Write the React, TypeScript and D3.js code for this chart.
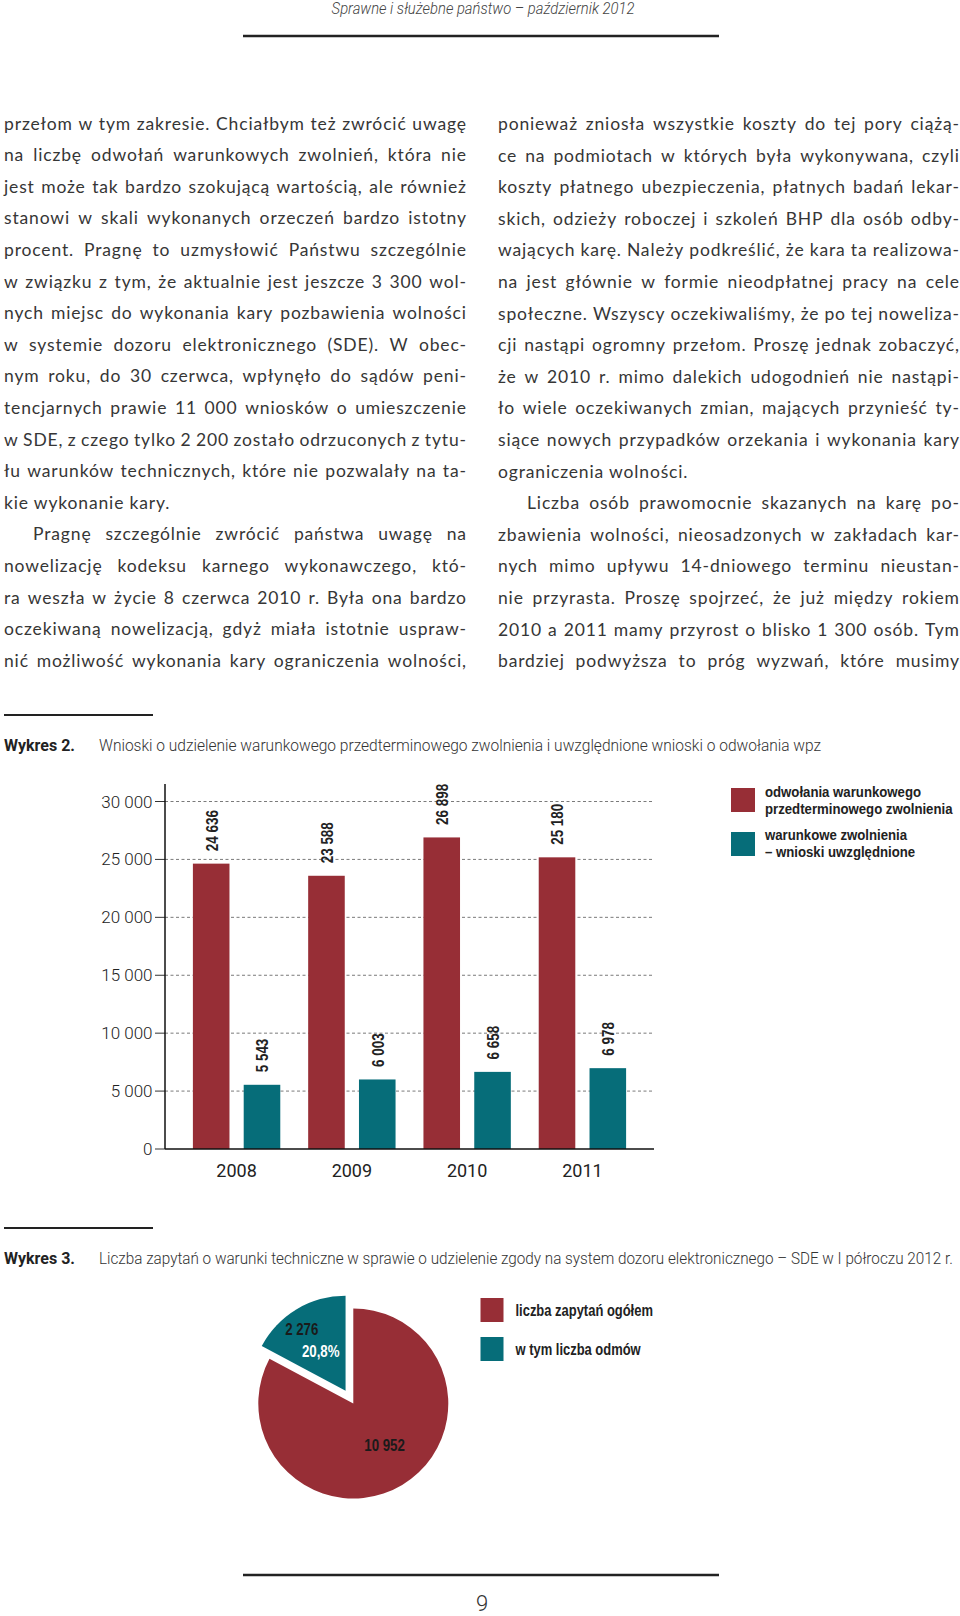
import React from 'react';
import * as d3 from 'd3';

// ---------- content ----------
const headerText = 'Sprawne i służebne państwo – październik 2012';
const pageNumber = '9';

const leftColumnLines = [
  'przełom w tym zakresie. Chciałbym też zwrócić uwagę',
  'na liczbę odwołań warunkowych zwolnień, która nie',
  'jest może tak bardzo szokującą wartością, ale również',
  'stanowi w skali wykonanych orzeczeń bardzo istotny',
  'procent. Pragnę to uzmysłowić Państwu szczególnie',
  'w związku z tym, że aktualnie jest jeszcze 3 300 wol-',
  'nych miejsc do wykonania kary pozbawienia wolności',
  'w systemie dozoru elektronicznego (SDE). W obec-',
  'nym roku, do 30 czerwca, wpłynęło do sądów peni-',
  'tencjarnych prawie 11 000 wniosków o umieszczenie',
  'w SDE, z czego tylko 2 200 zostało odrzuconych z tytu-',
  'łu warunków technicznych, które nie pozwalały na ta-',
  'kie wykonanie kary.',
  'Pragnę szczególnie zwrócić państwa uwagę na',
  'nowelizację kodeksu karnego wykonawczego, któ-',
  'ra weszła w życie 8 czerwca 2010 r. Była ona bardzo',
  'oczekiwaną nowelizacją, gdyż miała istotnie uspraw-',
  'nić możliwość wykonania kary ograniczenia wolności,',
];
const leftParagraphEnds = [12];
const leftIndentedLines = [13];

const rightColumnLines = [
  'ponieważ zniosła wszystkie koszty do tej pory ciążą-',
  'ce na podmiotach w których była wykonywana, czyli',
  'koszty płatnego ubezpieczenia, płatnych badań lekar-',
  'skich, odzieży roboczej i szkoleń BHP dla osób odby-',
  'wających karę. Należy podkreślić, że kara ta realizowa-',
  'na jest głównie w formie nieodpłatnej pracy na cele',
  'społeczne. Wszyscy oczekiwaliśmy, że po tej noweliza-',
  'cji nastąpi ogromny przełom. Proszę jednak zobaczyć,',
  'że w 2010 r. mimo dalekich udogodnień nie nastąpi-',
  'ło wiele oczekiwanych zmian, mających przynieść ty-',
  'siące nowych przypadków orzekania i wykonania kary',
  'ograniczenia wolności.',
  'Liczba osób prawomocnie skazanych na karę po-',
  'zbawienia wolności, nieosadzonych w zakładach kar-',
  'nych mimo upływu 14-dniowego terminu nieustan-',
  'nie przyrasta. Proszę spojrzeć, że już między rokiem',
  '2010 a 2011 mamy przyrost o blisko 1 300 osób. Tym',
  'bardziej podwyższa to próg wyzwań, które musimy',
];
const rightParagraphEnds = [11];
const rightIndentedLines = [12];

const chart2Label = 'Wykres 2.';
const chart2Title =
  'Wnioski o udzielenie warunkowego przedterminowego zwolnienia i uwzględnione wnioski o odwołania wpz';
const years = ['2008', '2009', '2010', '2011'];
const revocations = [24636, 23588, 26898, 25180];
const grantedReleases = [5543, 6003, 6658, 6978];
const yTickValues = [0, 5000, 10000, 15000, 20000, 25000, 30000];
const chart2Legend = [
  ['odwołania warunkowego', 'przedterminowego zwolnienia'],
  ['warunkowe zwolnienia', '– wnioski uwzględnione'],
];

const chart3Label = 'Wykres 3.';
const chart3Title =
  'Liczba zapytań o warunki techniczne w sprawie o udzielenie zgody na system dozoru elektronicznego – SDE w I półroczu 2012 r.';
const pieValues = [10952, 2276];
const refusalShare = '20,8%';
const chart3Legend = ['liczba zapytań ogółem', 'w tym liczba odmów'];

// ---------- styles ----------
const RED = '#972e36';
const TEAL = '#066d79';
const INK = '#222';
const BODY = '#363636';
const BODY_FONT = 'Lato';
const BOLD_FONT = '"Liberation Sans", Arial, sans-serif';
const LIGHT_FONT = 'Roboto, sans-serif';

const pl = d3.formatLocale({ decimal: ',', thousands: ' ', grouping: [3], currency: ['', ''] });
const fmt = pl.format(',');

let _ctx: CanvasRenderingContext2D | null = null;
function textWidth(text: string, font: string): number {
  if (!_ctx) _ctx = document.createElement('canvas').getContext('2d');
  if (!_ctx) return text.length * 8;
  _ctx.font = font;
  return _ctx.measureText(text).width;
}

// Horizontally condensed text: scaled around its anchor point.
function CText(props: any) {
  const {
    text, x = 0, y = 0, size, weight = 400, family, factor = 1, width, anchor = 'start',
    fill = INK, italic = false, transform, baseline,
  } = props;
  const natural = textWidth(text, `${italic ? 'italic ' : ''}${weight} ${size}px ${family}`);
  const w = width ?? natural * factor;
  const sx = natural > 0 ? w / natural : 1;
  const base = transform ? transform : `translate(${x},${y})`;
  return (
    <text
      x={0}
      y={0}
      transform={`${base} scale(${sx},1)`}
      fontSize={size}
      fontWeight={weight}
      fontFamily={family}
      fontStyle={italic ? 'italic' : 'normal'}
      textAnchor={anchor}
      dominantBaseline={baseline}
      fill={fill}
    >
      {text}
    </text>
  );
}

function Column(props: any) {
  const { lines, ends, indents, x, width, y0, lh } = props;
  const size = 17.5;
  const ls = 0.85;
  const font = `400 ${size}px ${BODY_FONT}`;
  return (
    <g fontFamily={BODY_FONT} fontSize={size} fill={BODY} letterSpacing={ls}>
      {lines.map((line: string, i: number) => {
        const indent = indents.includes(i) ? 29 : 0;
        const y = y0 + i * lh;
        const lx = x + indent;
        const avail = width - indent;
        if (ends.includes(i)) {
          return (
            <text key={i} x={lx} y={y}>
              {line}
            </text>
          );
        }
        const words = line.split(' ');
        const ws = words.map((w) => textWidth(w, font) + ls * (w.length - 1));
        const sum = d3.sum(ws);
        const gap = (avail - sum) / Math.max(1, words.length - 1);
        if (gap < 2.5) {
          return (
            <text key={i} x={lx} y={y} textLength={avail} lengthAdjust="spacing">
              {line}
            </text>
          );
        }
        let cx = lx;
        return (
          <text key={i} y={y}>
            {words.map((w, j) => {
              const t = (
                <tspan key={j} x={cx}>
                  {w}
                </tspan>
              );
              cx += ws[j] + gap;
              return t;
            })}
          </text>
        );
      })}
    </g>
  );
}

function BarChart() {
  const x0 = 165;
  const x1 = 654;
  const y = d3.scaleLinear().domain([0, 30000]).range([1149, 801.5]);
  const xg = d3.scaleBand<string>().domain(years).range([x0, x1]).paddingInner(0.242).paddingOuter(0.242);
  const xs = d3.scaleBand<string>().domain(['a', 'b']).range([0, xg.bandwidth()]).paddingInner(0.28);
  const series = [
    { key: 'a', values: revocations, color: RED },
    { key: 'b', values: grantedReleases, color: TEAL },
  ];
  return (
    <g>
      {yTickValues.filter((t) => t > 0).map((t) => (
        <line key={t} x1={x0} x2={x1} y1={y(t)} y2={y(t)} stroke="#7a7a7a" strokeWidth={1} strokeDasharray="3,2.5" />
      ))}
      {yTickValues.map((t) => (
        <g key={t}>
          <line x1={x0 - 10} x2={x0} y1={y(t)} y2={y(t)} stroke="#333" strokeWidth={1} />
          <text x={x0 - 12.5} y={y(t) + 6} textAnchor="end" fontFamily={LIGHT_FONT} fontWeight={300} fontSize={17} fill={INK}>
            {fmt(t)}
          </text>
        </g>
      ))}
      {series.map((s) =>
        years.map((yr, i) => {
          const bx = (xg(yr) as number) + (xs(s.key) as number);
          const v = s.values[i];
          return (
            <g key={s.key + yr}>
              <rect x={bx} y={y(v)} width={xs.bandwidth()} height={y(0) - y(v)} fill={s.color} />
              <CText
                text={fmt(v)}
                transform={`translate(${bx + xs.bandwidth() / 2 + 1},${y(v) - 12.5}) rotate(-90)`}
                size={16}
                weight={700}
                family={BOLD_FONT}
                factor={0.84}
                baseline="central"
                fill={INK}
              />
            </g>
          );
        })
      )}
      <line x1={x0} x2={x0} y1={y(0)} y2={784} stroke="#111" strokeWidth={1.5} />
      <line x1={x0} x2={x1} y1={y(0)} y2={y(0)} stroke="#111" strokeWidth={1.5} />
      {years.map((yr) => (
        <text
          key={yr}
          x={(xg(yr) as number) + xg.bandwidth() / 2}
          y={1177}
          textAnchor="middle"
          fontFamily={LIGHT_FONT}
          fontWeight={400}
          fontSize={18}
          fill={INK}
        >
          {yr}
        </text>
      ))}
      {chart2Legend.map((lines, i) => (
        <g key={i}>
          <rect x={731} y={788 + i * 44} width={24} height={24} fill={i === 0 ? RED : TEAL} />
          {lines.map((l, j) => (
            <CText key={j} text={l} x={765} y={797 + i * 43 + j * 17} size={15} weight={700} family={BOLD_FONT} factor={0.88} />
          ))}
        </g>
      ))}
    </g>
  );
}

function PieChart() {
  const cx = 353.3;
  const cy = 1403.5;
  const R = 95;
  const arcs = d3.pie<number>().sort(null)(pieValues);
  const arc = d3.arc<d3.PieArcDatum<number>>().innerRadius(0).outerRadius(R);
  const explode = 15;
  const teal = arcs[1];
  const mid = (teal.startAngle + teal.endAngle) / 2;
  const tdx = Math.sin(mid) * explode;
  const tdy = -Math.cos(mid) * explode;
  const redLabel = d3.arc<d3.PieArcDatum<number>>().innerRadius(53).outerRadius(53).centroid(arcs[0]);
  const tealLabel = d3.arc<d3.PieArcDatum<number>>().innerRadius(58).outerRadius(58).centroid(teal);
  return (
    <g>
      <g transform={`translate(${cx},${cy})`}>
        <path d={arc(arcs[0]) || ''} fill={RED} />
        <g transform={`translate(${tdx},${tdy})`}>
          <path d={arc(teal) || ''} fill={TEAL} />
          <CText text={fmt(pieValues[1])} x={tealLabel[0] - 14} y={tealLabel[1] - 11} anchor="middle" baseline="central" size={16} weight={700} family={BOLD_FONT} factor={0.83} fill="#1a1a1a" />
          <CText text={refusalShare} x={tealLabel[0] + 5} y={tealLabel[1] + 11} anchor="middle" baseline="central" size={16} weight={700} family={BOLD_FONT} factor={0.83} fill="#ffffff" />
        </g>
        <CText text={fmt(pieValues[0])} x={redLabel[0] + 4} y={redLabel[1] - 3} anchor="middle" baseline="central" size={16} weight={700} family={BOLD_FONT} factor={0.83} fill="#1a1a1a" />
      </g>
      {chart3Legend.map((l, i) => (
        <g key={i}>
          <rect x={480.5} y={1298 + i * 39} width={23} height={24} fill={i === 0 ? RED : TEAL} />
          <CText text={l} x={515.5} y={1316 + i * 39} size={16} weight={700} family={BOLD_FONT} factor={0.81} />
        </g>
      ))}
    </g>
  );
}

export default function App() {
  return (
    <svg
      width={960}
      height={1616}
      viewBox="0 0 960 1616"
      style={{ position: 'absolute', left: 0, top: 0, background: '#fff' }}
    >
      <rect x={0} y={0} width={960} height={1616} fill="#fff" />
      {/* header */}
      <CText text={headerText} x={483} y={14} anchor="middle" size={16} weight={300} italic family={LIGHT_FONT} width={303} fill="#444" />
      <line x1={243} x2={719} y1={36} y2={36} stroke={INK} strokeWidth={2.5} />

      <Column lines={leftColumnLines} ends={leftParagraphEnds} indents={leftIndentedLines} x={4} width={462} y0={129.5} lh={31.6} />
      <Column lines={rightColumnLines} ends={rightParagraphEnds} indents={rightIndentedLines} x={498} width={461} y0={130} lh={31.6} />

      {/* chart 2 */}
      <line x1={4} x2={153} y1={715} y2={715} stroke={INK} strokeWidth={2} />
      <CText text={chart2Label} x={4} y={751} size={16} weight={700} family={LIGHT_FONT} width={71} />
      <CText text={chart2Title} x={99} y={751} size={16} weight={300} family={LIGHT_FONT} width={723} fill="#333" />
      <BarChart />

      {/* chart 3 */}
      <line x1={4} x2={153} y1={1228} y2={1228} stroke={INK} strokeWidth={2} />
      <CText text={chart3Label} x={4} y={1264} size={16} weight={700} family={LIGHT_FONT} width={71} />
      <CText text={chart3Title} x={99} y={1264} size={16} weight={300} family={LIGHT_FONT} width={855} fill="#333" />
      <PieChart />

      {/* footer */}
      <line x1={243} x2={719} y1={1575} y2={1575} stroke={INK} strokeWidth={2.5} />
      <text x={482} y={1611} textAnchor="middle" fontFamily={LIGHT_FONT} fontWeight={300} fontSize={22} fill="#333">
        {pageNumber}
      </text>
    </svg>
  );
}
